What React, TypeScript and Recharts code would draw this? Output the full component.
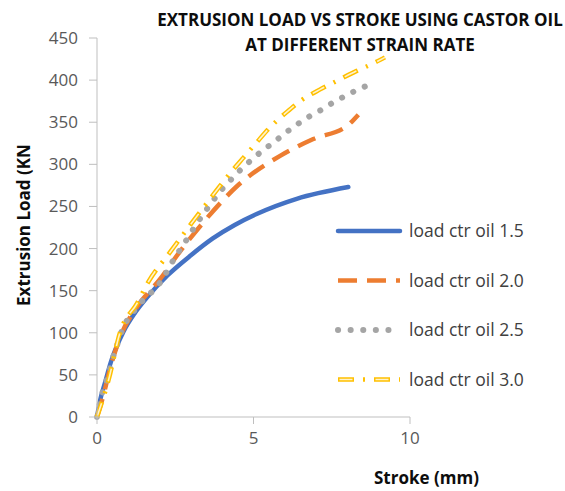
import React from 'react';
import { LineChart, Line, XAxis, YAxis, Legend } from 'recharts';

// stroke (mm) / load (kN), one pair of arrays per strain rate
const STROKE_15 = [0, 0.1, 0.25, 0.45, 0.84, 1.2, 1.6, 2.25, 3.0, 3.7, 4.4, 5.1, 6.38, 8.03];
const LOAD_15 = [0, 20, 40, 66, 101, 123, 142, 168, 192, 212, 228, 241, 259, 273];

const STROKE_20 = [0, 0.2, 0.4, 0.74, 1.28, 2.0, 2.66, 3.51, 4.04, 4.47, 4.79, 5.85, 6.91, 8.0, 8.35];
const LOAD_20 = [0, 25, 55, 95, 131, 163, 197, 236, 258, 274, 284, 310, 330, 346, 359];

const STROKE_25 = [0, 0.1, 0.22, 0.37, 0.48, 0.63, 0.78, 0.96, 1.28, 1.57, 1.86, 2.16, 2.37, 2.64, 2.89, 3.14, 3.4, 3.67, 3.96, 4.26, 4.6, 4.93, 5.28, 5.64, 6.01, 6.38, 6.79, 7.18, 7.57, 7.98, 8.4, 8.83];
const LOAD_25 = [0, 18, 35, 50, 67, 84, 101, 115, 130, 143, 152, 168, 182, 198, 212, 227, 241, 255, 269, 281, 294, 305, 316, 326, 337, 347, 357, 365, 374, 382, 390, 396];

const STROKE_30 = [0, 0.37, 0.74, 1.28, 1.65, 2.34, 2.98, 3.51, 3.88, 4.31, 4.68, 5.1, 5.53, 6.06, 6.49, 7.13, 7.66, 8.3, 8.78, 9.2];
const LOAD_30 = [0, 44, 101, 135, 161, 196, 228, 254, 272, 292, 308, 326, 344, 362, 375, 389, 399, 411, 419, 427];

const X_TICKS = [0, 5, 10];
const Y_TICKS = [0, 50, 100, 150, 200, 250, 300, 350, 400, 450];

const toPoints = (xs: number[], ys: number[]) => xs.map((x, i) => ({ stroke: x, load: ys[i] }));

const SERIES = [
    { name: 'load ctr oil 1.5', data: toPoints(STROKE_15, LOAD_15), color: '#4472C4', width: 4.5, dash: undefined, cap: 'round', inner: undefined },
    { name: 'load ctr oil 2.0', data: toPoints(STROKE_20, LOAD_20), color: '#ED7D31', width: 4.5, dash: '19 10', cap: 'butt', inner: undefined },
    { name: 'load ctr oil 2.5', data: toPoints(STROKE_25, LOAD_25), color: '#A5A5A5', width: 6, dash: '0.1 12.5', cap: 'round', inner: undefined },
    { name: 'load ctr oil 3.0', data: toPoints(STROKE_30, LOAD_30), color: '#FFC000', width: 4.5, dash: '16 9 2 9', cap: 'butt', inner: '0 1.5 13 21.5' },
];

const FONT = '"Open Sans", sans-serif';

const renderLegend = () => (
    <svg width={235} height={190}>
        {SERIES.map((s, i) => {
            const y = 16 + i * 49.5;
            return (
                <g key={s.name}>
                    <line x1={8} x2={70} y1={y} y2={y} stroke={s.color} strokeWidth={s.width}
                        strokeDasharray={s.dash} strokeLinecap={s.cap as any} />
                    {s.inner && (
                        <line x1={8} x2={70} y1={y} y2={y} stroke="#FFF2CC" strokeWidth={1.6}
                            strokeDasharray={s.inner} />
                    )}
                    <text x={79} y={y + 6} fontSize={17.5} fill="#404040" fontFamily={FONT}>{s.name}</text>
                </g>
            );
        })}
    </svg>
);

export default function App() {
    return (
        <div style={{ position: 'absolute', left: 0, top: 0, width: 565, height: 491, background: '#fff', fontFamily: FONT }}>
            <div style={{ position: 'absolute', left: 150, width: 420, top: 7, textAlign: 'center', fontWeight: 700, fontSize: 17, lineHeight: '25px', color: '#0d0d0d', zIndex: 2 }}>
                EXTRUSION LOAD VS STROKE USING CASTOR OIL<br />AT DIFFERENT STRAIN RATE
            </div>
            <div style={{ position: 'absolute', left: 23, top: 225, transform: 'translate(-50%, -50%) rotate(-90deg)', whiteSpace: 'nowrap', fontWeight: 700, fontSize: 17, color: '#0d0d0d' }}>
                Extrusion Load (KN
            </div>
            <div style={{ position: 'absolute', left: 374, top: 466, whiteSpace: 'nowrap', fontWeight: 700, fontSize: 17, color: '#0d0d0d' }}>
                Stroke (mm)
            </div>
            <LineChart width={565} height={491} margin={{ top: 38, right: 155, bottom: 44, left: 0 }}>
                <XAxis dataKey="stroke" type="number" domain={[0, 10]} ticks={X_TICKS} allowDuplicatedCategory={false}
                    stroke="#BFBFBF" tickSize={7} tickMargin={8} height={30}
                    tick={{ fill: '#595959', fontSize: 17, fontFamily: FONT }} />
                <YAxis type="number" domain={[0, 450]} ticks={Y_TICKS} width={97}
                    stroke="#BFBFBF" tickSize={8} tickMargin={11}
                    tick={{ fill: '#595959', fontSize: 17, fontFamily: FONT }} />
                <Legend layout="vertical" align="center" verticalAlign="middle" content={renderLegend}
                    wrapperStyle={{ left: 330, top: 215, width: 235, height: 190 }} />
                {SERIES.map((s) => (
                    <Line key={s.name} data={s.data} dataKey="load" name={s.name} type="monotone"
                        stroke={s.color} strokeWidth={s.width} strokeDasharray={s.dash} strokeLinecap={s.cap as any}
                        dot={false} activeDot={false} isAnimationActive={false} />
                ))}
                {SERIES.filter((s) => s.inner).map((s) => (
                    <Line key={s.name + '-inner'} data={s.data} dataKey="load" name={s.name} legendType="none" type="monotone"
                        stroke="#FFF2CC" strokeWidth={1.6} strokeDasharray={s.inner}
                        dot={false} activeDot={false} isAnimationActive={false} />
                ))}
            </LineChart>
        </div>
    );
}
